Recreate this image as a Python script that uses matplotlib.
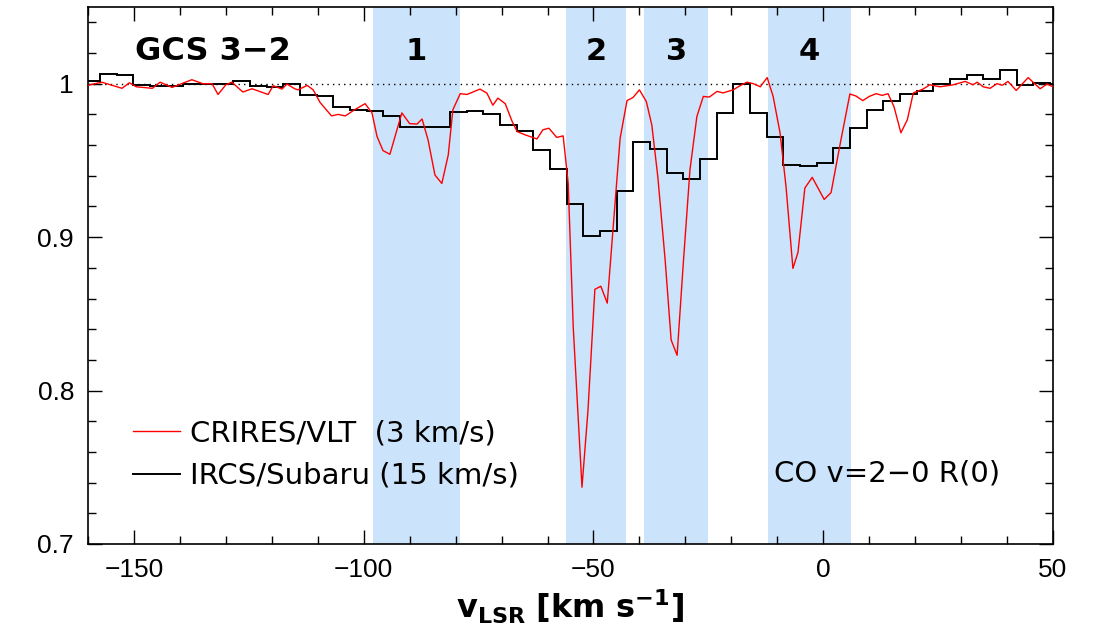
import matplotlib
matplotlib.use("Agg")
import matplotlib.pyplot as plt
from matplotlib.ticker import MultipleLocator, FormatStrFormatter
import numpy as np

# ---- data ----
crires_v = [-160, -157, -152.6, -151, -149.5, -146, -144.3, -141.7, -137.4, -135, -133, -131.7, -130,
            -128.7, -126.3, -124.3, -120.8, -119.7, -117.8, -116.7, -115, -114.3, -112.3, -111, -109.5,
            -107, -105.6, -104, -102, -99.7, -98.2, -97.1, -95.8, -94.3, -91.7, -90, -88.4, -87.3, -86,
            -84.5, -83, -81.6, -80.6, -79, -77.5, -74.7, -73.2, -71.9, -70.8, -69.2, -67.7, -66.6, -64.9,
            -62.3, -61, -59.7, -58, -56.6, -55.5, -54.4, -52.5, -51.2, -49.7, -48.4, -47, -45.7, -44.2,
            -42.7, -41.4, -40, -38.5, -37.3, -36, -34.4, -33.1, -31.8, -30.5, -29, -27.5, -26.1, -24.8,
            -23.1, -21.8, -19.6, -18.1, -16.6, -15.2, -13.7, -12.2, -10.9, -9.4, -8.1, -6.6, -5.5, -4,
            -2.4, 0.2, 1.7, 3.7, 5.8, 7.1, 8.6, 10, 11.5, 12.8, 14.1, 15.4, 16.9, 18.3, 19.6, 21.7, 23.2,
            25.4, 28.3, 30.9, 32.6, 33.5, 34.8, 36.3, 37.8, 39, 40.2, 42, 44.6, 47.2, 48.7, 50]
crires_f = [0.999, 1.001, 0.997, 1.0006, 0.998, 0.997, 1.001, 0.9976, 1.0026, 1.0, 1.0, 0.993, 0.9993,
            1.001, 0.9946, 0.9967, 0.993, 0.9987, 0.9965, 0.9998, 0.9967, 0.996, 0.9989, 0.996, 0.9878,
            0.979, 0.980, 0.979, 0.983, 0.987, 0.981, 0.9656, 0.9564, 0.954, 0.981, 0.974, 0.9737, 0.977,
            0.9634, 0.9405, 0.935, 0.9536, 0.983, 0.9935, 0.993, 0.9965, 0.9939, 0.986, 0.9906, 0.987,
            0.9754, 0.9688, 0.9667, 0.964, 0.970, 0.971, 0.965, 0.966, 0.935, 0.841, 0.737, 0.787, 0.866,
            0.868, 0.857, 0.907, 0.9645, 0.989, 0.991, 0.996, 0.9884, 0.973, 0.9394, 0.885, 0.833, 0.823,
            0.881, 0.944, 0.9786, 0.9917, 0.9913, 0.995, 0.994, 0.996, 0.9987, 1.001, 1.0, 0.998, 1.004,
            0.9917, 0.968, 0.933, 0.8796, 0.890, 0.932, 0.939, 0.9246, 0.929, 0.961, 0.9933, 0.992, 0.989,
            0.9917, 0.9935, 0.9924, 0.9935, 0.985, 0.968, 0.9765, 0.994, 0.9965, 0.9993, 0.998, 0.9993,
            1.0015, 0.9993, 1.001, 0.998, 0.997, 1.0, 0.999, 1.0015, 0.9956, 1.004, 0.9967, 0.9998, 0.998]

ircs_edge0 = -59.46      # a bin edge of the IRCS spectrum
ircs_binw = 3.627        # bin width (km/s)
ircs_kfirst = -28        # index of first bin relative to edge0
ircs_f = [1.0015, 1.0063, 1.0057, 0.9989, 0.9987, 0.9987, 0.9998, 1.0, 1.0, 1.002, 0.9987, 0.998,
          1.0, 0.9928, 0.992, 0.985, 0.983, 0.982, 0.9787, 0.972, 0.9717, 0.972, 0.9815, 0.982, 0.980,
          0.9728, 0.9695, 0.957, 0.9444, 0.9214, 0.9009, 0.9039, 0.930, 0.9617, 0.9577, 0.9416, 0.9379,
          0.951, 0.981, 1.0, 0.981, 0.965, 0.947, 0.9466, 0.948, 0.958, 0.971, 0.9826, 0.9885, 0.9933,
          0.995, 1.0, 1.0033, 1.0059, 1.0033, 1.0092, 0.9993, 1.0004, 1.0]

regions = [(-98, -79), (-56, -43), (-39, -25), (-12, 6)]
region_labels = ["1", "2", "3", "4"]

# ---- figure ----
fig = plt.figure(figsize=(10.99, 6.44), dpi=100)
ax = fig.add_axes([88/1099, 100/644, 965/1099, 537/644])

shade = "#cce4fb"
for (a, b), lab in zip(regions, region_labels):
    ax.axvspan(a, b, color=shade, lw=0, zorder=0)
    ax.text((a + b) / 2, 1.021, lab, ha="center", va="center", fontsize=22,
            fontweight="bold", family="DejaVu Sans")

ax.axhline(1.0, color="black", lw=1.0, ls=(0, (1, 3)), zorder=1)

edges = ircs_edge0 + ircs_binw * (ircs_kfirst + np.arange(len(ircs_f) + 1))
ax.stairs(ircs_f, edges, color="black", lw=1.4, zorder=2,
          label="IRCS/Subaru (15 km/s)")
ax.plot(crires_v, crires_f, color="red", lw=1.0, zorder=3,
        label="CRIRES/VLT  (3 km/s)")

ax.set_xlim(-160, 50)
ax.set_ylim(0.7, 1.05)

ax.text(-149.8, 1.021, "GCS 3\u22122", ha="left", va="center", fontsize=23,
        fontweight="bold", family="DejaVu Sans")
ax.text(38.5, 0.746, "CO v=2\u22120 R(0)", ha="right", va="center", fontsize=21,
        family="DejaVu Sans")

handles, labels = ax.get_legend_handles_labels()
leg = ax.legend(handles[::-1], labels[::-1], loc="upper left",
                bbox_to_anchor=(0.0466, 0.232), frameon=False,
                handlelength=1.6, handletextpad=0.35, labelspacing=0.5,
                borderpad=0, borderaxespad=0, prop={"family": "DejaVu Sans", "size": 21})

ax.xaxis.set_major_locator(MultipleLocator(50))
ax.xaxis.set_minor_locator(MultipleLocator(10))
ax.yaxis.set_major_locator(MultipleLocator(0.1))
ax.yaxis.set_minor_locator(MultipleLocator(0.02))
ax.yaxis.set_major_formatter(FormatStrFormatter("%g"))
ax.tick_params(which="both", direction="in", top=True, right=True, width=1.0)
ax.tick_params(which="major", length=10, labelsize=19, pad=10)
ax.tick_params(which="minor", length=6)
for lab in ax.get_xticklabels() + ax.get_yticklabels():
    lab.set_family("Liberation Sans")
for s in ax.spines.values():
    s.set_linewidth(1.2)

ax.set_xlabel(r"$\mathbf{v_{LSR}}$ $\mathbf{[km\ s^{-1}]}$", fontsize=23, labelpad=4)

fig.savefig("out.png", dpi=100)
